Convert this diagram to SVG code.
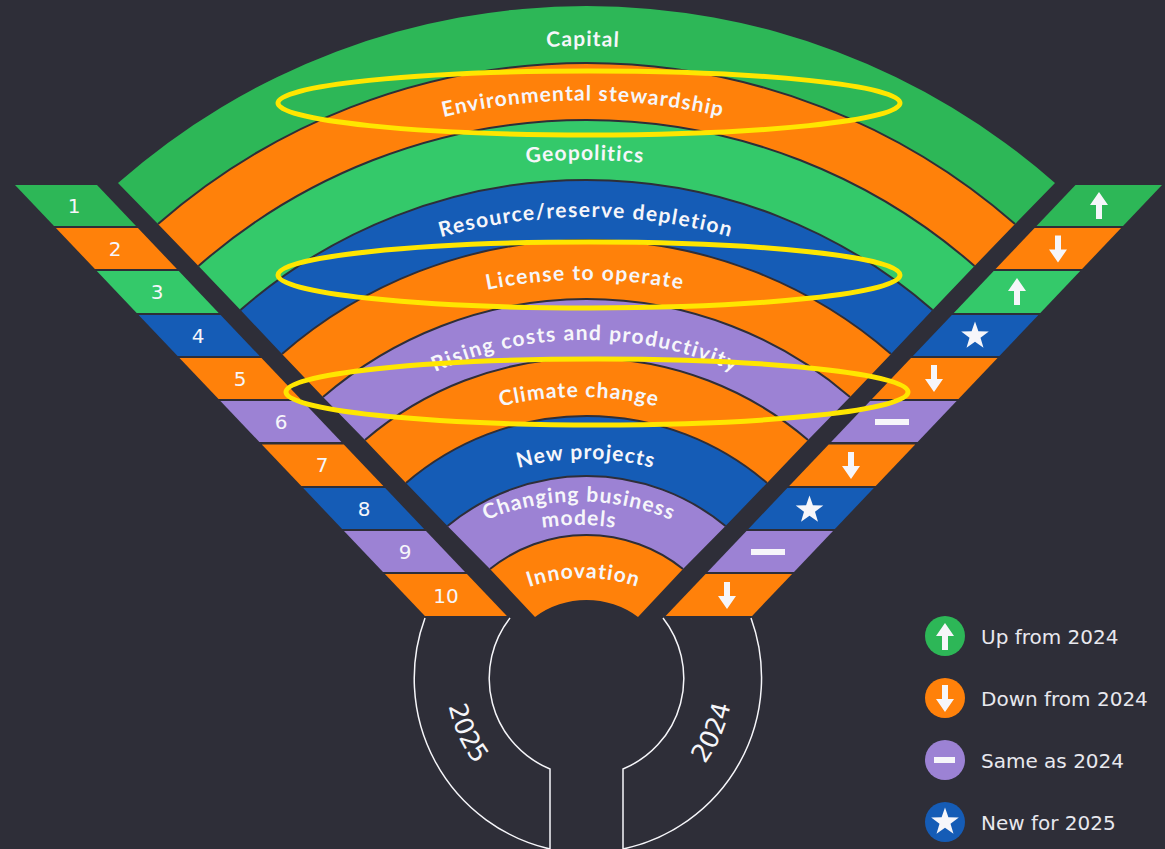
<svg xmlns="http://www.w3.org/2000/svg" width="1165" height="849" viewBox="0 0 1165 849">
<style>
.sep{fill:none;stroke:#2e2e38;stroke-width:2}
.g1{fill:#2db757}.g2{fill:#34c96a}.o{fill:#ff810a}.b{fill:#155cb6}.p{fill:#9c82d4}
.lbl{font-family:Lato,"Open Sans",sans-serif;font-weight:700;font-size:21px;fill:#f6f6fa;text-anchor:middle;letter-spacing:1.1px}
.wide{letter-spacing:1.4px}
.num{font-family:"DejaVu Sans",sans-serif;font-size:20px;fill:#f6f6fa;text-anchor:middle}
.leg{font-family:"DejaVu Sans",sans-serif;font-size:20px;fill:#e8e8ee}
.yr{font-family:"DejaVu Sans",sans-serif;font-size:25.500px;fill:#f6f6fa;text-anchor:middle}
.ring{fill:none;stroke:#ffe600;stroke-width:5}
.key{fill:none;stroke:#f6f6fa;stroke-width:1.5}
.ic{fill:#f6f6fa}
</style>
<defs>
<path id="up" d="M0-14 9-1H3V13H-3V-1H-9Z"/>
<path id="down" d="M0 14 9 1H3V-13H-3V1H-9Z"/>
<path id="star" d="M0-14.500 3.400-4.700 13.800-4.500 5.500 1.800 8.500 11.700 0 5.800-8.500 11.700-5.500 1.800-13.800-4.500-3.400-4.700Z"/>
<path id="t1" d="M-87 716A670 670 0 0 1 1253 716"/>
<path id="t2" d="M-17 700.500A600 600 0 0 1 1183 700.500"/>
<path id="t3" d="M25 720A560 560 0 0 1 1145 720"/>
<path id="t4" d="M56 747A530 530 0 0 1 1116 747"/>
<path id="t5" d="M85 780A500 500 0 0 1 1085 780"/>
<path id="t6" d="M220 705A365 365 0 0 1 950 705"/>
<path id="t7" d="M249 727A330 330 0 0 1 909 727"/>
<path id="t8" d="M331 714A255 255 0 0 1 841 714"/>
<path id="t9" d="M339 741.500A240 240 0 0 1 819 741.500"/>
<path id="t10" d="M339 765A240 240 0 0 1 819 765"/>
<path id="t11" d="M413.500 748A170 170 0 0 1 753.500 748"/>
<path id="yrL" d="M588 536A142 142 0 0 0 588 820"/>
<path id="yrR" d="M588 823A145 145 0 0 0 588 533"/>
</defs>
<rect width="1165" height="849" fill="#2e2e38"/>

<g id="bands">
<g id="band-capital"><path class="g1" d="M118 183A708.500 708.500 0 0 1 1055 183L1015 224A650.700 650.700 0 0 0 158 224Z"/><text class="lbl"><textPath href="#t1" startOffset="50%">Capital</textPath></text></g>
<g id="band-environment"><path class="o" d="M158 224A650.700 650.700 0 0 1 1015 224L974.500 266A588.600 588.600 0 0 0 198.500 266Z"/><text class="lbl"><textPath href="#t2" startOffset="50%">Environmental stewardship</textPath></text></g>
<g id="band-geopolitics"><path class="g2" d="M198.500 266A588.600 588.600 0 0 1 974.500 266L932.500 310A525.400 525.400 0 0 0 240.500 310Z"/><text class="lbl"><textPath href="#t3" startOffset="50%">Geopolitics</textPath></text></g>
<g id="band-resource"><path class="b" d="M240.500 310A525.400 525.400 0 0 1 932.500 310L891 354A463.700 463.700 0 0 0 282 354Z"/><text class="lbl wide"><textPath href="#t4" startOffset="50%">Resource/reserve depletion</textPath></text></g>
<g id="band-license"><path class="o" d="M282 354A463.700 463.700 0 0 1 891 354L850 397A403.200 403.200 0 0 0 323 397Z"/><text class="lbl wide"><textPath href="#t5" startOffset="50%">License to operate</textPath></text></g>
<g id="band-rising"><path class="p" d="M323 397A403.200 403.200 0 0 1 850 397L808 440A340.200 340.200 0 0 0 365 440Z"/><text class="lbl wide"><textPath href="#t6" startOffset="50%">Rising costs and productivity</textPath></text></g>
<g id="band-climate"><path class="o" d="M365 440A340.200 340.200 0 0 1 808 440L767 483A276.600 276.600 0 0 0 406 483Z"/><text class="lbl"><textPath href="#t7" startOffset="50%">Climate change</textPath></text></g>
<g id="band-newprojects"><path class="b" d="M406 483A276.600 276.600 0 0 1 767 483L725.500 526A218.200 218.200 0 0 0 447.500 526Z"/><text class="lbl"><textPath href="#t8" startOffset="50%">New projects</textPath></text></g>
<g id="band-changing"><path class="p" d="M447.500 526A218.200 218.200 0 0 1 725.500 526L683 569A153.900 153.900 0 0 0 490 569Z"/><text class="lbl"><textPath href="#t9" startOffset="50%">Changing business</textPath></text><text class="lbl"><textPath href="#t10" startOffset="50%">models</textPath></text></g>
<g id="band-innovation"><path class="o" d="M490 569A153.900 153.900 0 0 1 683 569L638 617A86.500 86.500 0 0 0 535 617Z"/><text class="lbl"><textPath href="#t11" startOffset="50%">Innovation</textPath></text></g>
</g>

<g id="band-separators">
<path class="sep" d="M158 224A650.700 650.700 0 0 1 1015 224"/>
<path class="sep" d="M198.500 266A588.600 588.600 0 0 1 974.500 266"/>
<path class="sep" d="M240.500 310A525.400 525.400 0 0 1 932.500 310"/>
<path class="sep" d="M282 354A463.700 463.700 0 0 1 891 354"/>
<path class="sep" d="M323 397A403.200 403.200 0 0 1 850 397"/>
<path class="sep" d="M365 440A340.200 340.200 0 0 1 808 440"/>
<path class="sep" d="M406 483A276.600 276.600 0 0 1 767 483"/>
<path class="sep" d="M447.500 526A218.200 218.200 0 0 1 725.500 526"/>
<path class="sep" d="M490 569A153.900 153.900 0 0 1 683 569"/>
</g>

<g id="rank-2025">
<g id="l1"><path class="g1" d="M15 185H97L136 226H54Z"/><text class="num" x="74" y="213">1</text></g>
<g id="l2"><path class="o" d="M55.900 228H137.900L176.900 269H94.900Z"/><text class="num" x="115" y="256">2</text></g>
<g id="l3"><path class="g2" d="M96.800 271H178.800L218.700 313H136.700Z"/><text class="num" x="157" y="299">3</text></g>
<g id="l4"><path class="b" d="M138.600 315H220.600L259.600 356H177.600Z"/><text class="num" x="198" y="343">4</text></g>
<g id="l5"><path class="o" d="M179.500 358H261.500L300.500 399H218.500Z"/><text class="num" x="240" y="386">5</text></g>
<g id="l6"><path class="p" d="M220.400 401H302.400L341.400 442H259.400Z"/><text class="num" x="281" y="429">6</text></g>
<g id="l7"><path class="o" d="M261.800 444.500H343.800L383.300 486H301.300Z"/><text class="num" x="322" y="472">7</text></g>
<g id="l8"><path class="b" d="M303.200 488H385.200L424.100 529H342.100Z"/><text class="num" x="364" y="516">8</text></g>
<g id="l9"><path class="p" d="M344 531H426L465 572H383Z"/><text class="num" x="405" y="559">9</text></g>
<g id="l10"><path class="o" d="M384.900 574H466.900L506.900 616H424.900Z"/><text class="num" x="446" y="603">10</text></g>
</g>

<g id="rank-2024">
<g id="r1"><path class="g1" d="M1075.500 185H1162L1123 226H1036.500Z"/><use class="ic" href="#up" x="1099" y="206"/></g>
<g id="r2"><path class="o" d="M1034.600 228H1121.100L1082.100 269H995.600Z"/><use class="ic" href="#down" x="1058" y="248.500"/></g>
<g id="r3"><path class="g2" d="M993.700 271H1080.200L1040.300 313H953.800Z"/><use class="ic" href="#up" x="1017" y="292"/></g>
<g id="r4"><path class="b" d="M951.900 315H1038.400L999.400 356H912.900Z"/><use class="ic" href="#star" x="975" y="336"/></g>
<g id="r5"><path class="o" d="M911 358H997.500L958.500 399H872Z"/><use class="ic" href="#down" x="934" y="378"/></g>
<g id="r6"><path class="p" d="M870.100 401H956.600L917.600 442H831.100Z"/><rect class="ic" x="875" y="419" width="34" height="6"/></g>
<g id="r7"><path class="o" d="M828.700 444.500H915.200L875.700 486H789.200Z"/><use class="ic" href="#down" x="851" y="465"/></g>
<g id="r8"><path class="b" d="M787.300 488H873.800L834.900 529H748.400Z"/><use class="ic" href="#star" x="809.500" y="510"/></g>
<g id="r9"><path class="p" d="M746.500 531H833L794 572H707.500Z"/><rect class="ic" x="751" y="549" width="34" height="6"/></g>
<g id="r10"><path class="o" d="M705.600 574H792.100L752.100 616H665.600Z"/><use class="ic" href="#down" x="727" y="595"/></g>
</g>

<g id="keyhole">
<path class="key" d="M425 618A175 175 0 0 0 550 849V769A98 98 0 0 1 510 618"/>
<path class="key" d="M751 618A175 175 0 0 1 623 849V769A98 98 0 0 0 663 618"/>
<text class="yr"><textPath href="#yrL" startOffset="63.600%">2025</textPath></text>
<text class="yr"><textPath href="#yrR" startOffset="36.900%">2024</textPath></text>
</g>

<g id="highlights">
<ellipse class="ring" cx="589" cy="103" rx="311" ry="32"/>
<ellipse class="ring" cx="589" cy="275" rx="311" ry="33"/>
<ellipse class="ring" cx="597" cy="392" rx="311" ry="33"/>
</g>

<g id="legend">
<g id="leg-up"><circle class="g1" cx="945" cy="636" r="20"/><use class="ic" href="#up" x="945" y="637"/><text class="leg" x="981" y="644">Up from 2024</text></g>
<g id="leg-down"><circle class="o" cx="945" cy="698" r="20"/><use class="ic" href="#down" x="945" y="698"/><text class="leg" x="981" y="706">Down from 2024</text></g>
<g id="leg-same"><circle class="p" cx="945" cy="760" r="20"/><rect class="ic" x="934" y="757" width="21" height="6"/><text class="leg" x="981" y="768">Same as 2024</text></g>
<g id="leg-new"><circle class="b" cx="945" cy="822" r="20"/><use class="ic" href="#star" x="945" y="822"/><text class="leg" x="981" y="830">New for 2025</text></g>
</g>
</svg>
